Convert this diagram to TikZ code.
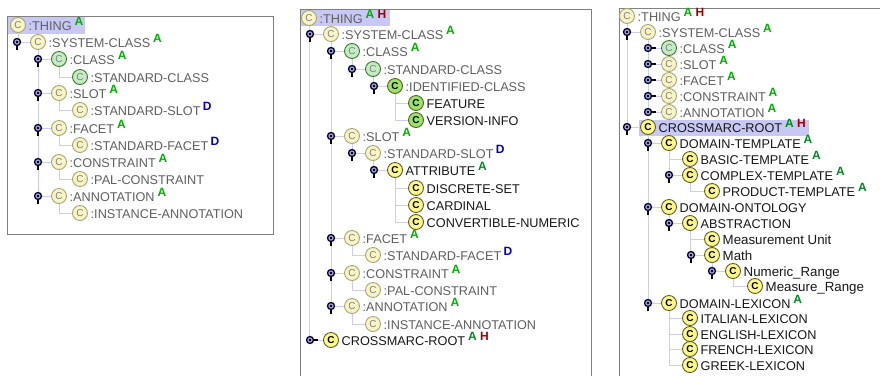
\documentclass[tikz,border=0pt]{standalone}
\usepackage{fontspec}
\setmainfont{Liberation Sans}
\pgfdeclarelayer{bg}
\pgfsetlayers{bg,main}
\definecolor{ysys}{HTML}{F8F4C4}
\definecolor{yusr}{HTML}{FCF88C}
\definecolor{gsys}{HTML}{C4ECC4}
\definecolor{gusr}{HTML}{98E468}
\definecolor{lsys}{HTML}{A8A478}
\definecolor{lusr}{HTML}{605C20}
\definecolor{tsys}{HTML}{606060}
\definecolor{tusr}{HTML}{181818}
\definecolor{badgeg}{HTML}{00B000}
\definecolor{badgedg}{HTML}{008A20}
\definecolor{badged}{HTML}{0000C0}
\definecolor{badgeh}{HTML}{A00000}
\definecolor{treeline}{HTML}{CCCCF4}
\definecolor{hilite}{HTML}{C8C8F4}
\definecolor{framec}{HTML}{808080}
\definecolor{hfill}{HTML}{A8A8C8}
\tikzset{
  x=1pt,y=-1pt,
  icon/.style={circle,minimum size=15pt,inner sep=0pt,line width=0.9pt},
  ys/.style={icon,fill=ysys,draw=lsys,text=gray,font=\fontsize{10}{10}\selectfont},
  yu/.style={icon,fill=yusr,draw=lusr,text=black,font=\fontsize{10}{10}\selectfont\bfseries},
  gs/.style={icon,fill=gsys,draw=lsys!60!green!60!black,text=gray,font=\fontsize{10}{10}\selectfont},
  gu/.style={icon,fill=gusr,draw=lusr,text=black,font=\fontsize{10}{10}\selectfont\bfseries},
  lab/.style={anchor=base west,inner sep=0pt,font=\fontsize{12.7}{13}\selectfont},
  sysl/.style={lab,text=tsys},
  usrl/.style={lab,text=tusr},
  usrw/.style={usrl,font=\fontsize{13.3}{14}\selectfont},
  badge/.style={anchor=base west,inner sep=0pt,font=\fontsize{12}{12}\selectfont\bfseries},
  tree/.style={draw=treeline,line width=0.9pt},
  hnd/.style={circle,minimum size=7pt,inner sep=0pt,fill=hfill,draw=black!75!blue,line width=1.3pt},
  hdot/.style={circle,minimum size=2.6pt,inner sep=0pt,fill=black},
  stem/.style={draw=black,line width=1.6pt},
  frm/.style={draw=framec,line width=1pt},
}
% \cl{name}{x}{y}{icon style}{label style}{text}
\newcommand{\cl}[6]{%
  \node[#4] (#1) at (#2,#3) {C};
  \node[#5] (#1-t) at (#2+10.5,#3+5) {#6};}
\newcommand{\bdA}[1]{\node[badge,text=badgeg] (#1-a) at ([xshift=2.5pt,yshift=4.5pt]#1-t.base east) {A};}
\newcommand{\bdB}[1]{\node[badge,text=badgedg] (#1-a) at ([xshift=2.5pt,yshift=4.5pt]#1-t.base east) {A};}
\newcommand{\bdD}[1]{\node[badge,text=badged] (#1-d) at ([xshift=2pt,yshift=4.5pt]#1-t.base east) {D};}
\newcommand{\bdH}[1]{\node[badge,text=badgeh] (#1-h) at ([xshift=3pt]#1-a.base east) {H};}
% expanded and collapsed handles, placed 21 to the left of the icon
\newcommand{\hx}[1]{%
  \node[hnd] (#1-x) at ([xshift=-21pt]#1.center) {};
  \node[hdot] (#1-xd) at (#1-x) {};
  \draw[stem] (#1-x.south) -- ++(0,4);}
\newcommand{\hc}[1]{%
  \node[hnd] (#1-x) at ([xshift=-21pt]#1.center) {};
  \node[hdot] (#1-xd) at (#1-x) {};
  \draw[stem] (#1-x.east) -- ++(4,0);}
\newcommand{\tl}[2]{\begin{pgfonlayer}{bg}\draw[tree] (#1.center) |- (#2.center);\end{pgfonlayer}}
\begin{document}
\begin{tikzpicture}
\useasboundingbox (0,0) rectangle (880,376);
\begin{pgfonlayer}{bg}
  \fill[white] (0,0) rectangle (880,376);
  \draw[frm] (7.5,16) rectangle (273,234.5);
  \fill[hilite] (8,17) rectangle (85,34);
  \draw[frm] (300.5,376) -- (300.5,9) -- (591,9) -- (591,376);
  \fill[hilite] (301,10) rectangle (390,26);
  \draw[frm] (619,376) -- (619,8) -- (880,8);
  \fill[hilite] (639,120) rectangle (809,136);
\end{pgfonlayer}
% ---------- panel 1
\cl{a0}{18}{25}{ys}{sysl}{:THING}\bdA{a0}
\cl{a1}{38}{42}{ys}{sysl}{:SYSTEM-CLASS}\bdA{a1}\hx{a1}
\cl{a2}{59}{59}{gs}{sysl}{:CLASS}\bdA{a2}\hx{a2}
\cl{a3}{80}{77}{gs}{sysl}{:STANDARD-CLASS}
\cl{a4}{59}{93}{ys}{sysl}{:SLOT}\bdA{a4}\hx{a4}
\cl{a5}{80}{110}{ys}{sysl}{:STANDARD-SLOT}\bdD{a5}
\cl{a6}{59}{128}{ys}{sysl}{:FACET}\bdA{a6}\hx{a6}
\cl{a7}{80}{145}{ys}{sysl}{:STANDARD-FACET}\bdD{a7}
\cl{a8}{59}{162}{ys}{sysl}{:CONSTRAINT}\bdA{a8}\hx{a8}
\cl{a9}{80}{179}{ys}{sysl}{:PAL-CONSTRAINT}
\cl{a10}{59}{196}{ys}{sysl}{:ANNOTATION}\bdA{a10}\hx{a10}
\cl{a11}{80}{213}{ys}{sysl}{:INSTANCE-ANNOTATION}
\tl{a0}{a1}\tl{a1}{a2}\tl{a1}{a4}\tl{a1}{a6}\tl{a1}{a8}\tl{a1}{a10}
\tl{a2}{a3}\tl{a4}{a5}\tl{a6}{a7}\tl{a8}{a9}\tl{a10}{a11}
% ---------- panel 2
\cl{b0}{309}{18}{ys}{sysl}{:THING}\bdA{b0}\bdH{b0}
\cl{b1}{331}{34}{ys}{sysl}{:SYSTEM-CLASS}\bdA{b1}\hx{b1}
\cl{b2}{352}{51}{gs}{sysl}{:CLASS}\bdA{b2}\hx{b2}
\cl{b3}{373}{69}{gs}{sysl}{:STANDARD-CLASS}\hx{b3}
\cl{b4}{395}{86}{gu}{sysl}{:IDENTIFIED-CLASS}\hx{b4}
\cl{b5}{416}{103}{gu}{usrl}{FEATURE}
\cl{b6}{416}{120}{gu}{usrl}{VERSION-INFO}
\cl{b7}{352}{136}{ys}{sysl}{:SLOT}\bdA{b7}\hx{b7}
\cl{b8}{373}{153}{ys}{sysl}{:STANDARD-SLOT}\bdD{b8}\hx{b8}
\cl{b9}{395}{170}{yu}{usrl}{ATTRIBUTE}\bdB{b9}\hx{b9}
\cl{b10}{416}{188}{yu}{usrl}{DISCRETE-SET}
\cl{b11}{416}{205}{yu}{usrl}{CARDINAL}
\cl{b12}{416}{222}{yu}{usrl}{CONVERTIBLE-NUMERIC}
\cl{b13}{352}{238}{ys}{sysl}{:FACET}\bdA{b13}\hx{b13}
\cl{b14}{373}{255}{ys}{sysl}{:STANDARD-FACET}\bdD{b14}
\cl{b15}{352}{273}{ys}{sysl}{:CONSTRAINT}\bdA{b15}\hx{b15}
\cl{b16}{373}{290}{ys}{sysl}{:PAL-CONSTRAINT}
\cl{b17}{352}{306}{ys}{sysl}{:ANNOTATION}\bdA{b17}\hx{b17}
\cl{b18}{373}{324}{ys}{sysl}{:INSTANCE-ANNOTATION}
\cl{b19}{331}{340}{yu}{usrl}{CROSSMARC-ROOT}\bdB{b19}\bdH{b19}\hc{b19}
\tl{b0}{b1}\tl{b0}{b19}
\tl{b1}{b2}\tl{b1}{b7}\tl{b1}{b13}\tl{b1}{b15}\tl{b1}{b17}
\tl{b2}{b3}\tl{b3}{b4}\tl{b4}{b5}\tl{b4}{b6}
\tl{b7}{b8}\tl{b8}{b9}\tl{b9}{b10}\tl{b9}{b11}\tl{b9}{b12}
\tl{b13}{b14}\tl{b15}{b16}\tl{b17}{b18}
% ---------- panel 3
\cl{c0}{627}{16}{ys}{sysl}{:THING}\bdA{c0}\bdH{c0}
\cl{c1}{648}{32}{ys}{sysl}{:SYSTEM-CLASS}\bdA{c1}\hx{c1}
\cl{c2}{669}{48}{gs}{sysl}{:CLASS}\bdA{c2}\hc{c2}
\cl{c3}{669}{64}{ys}{sysl}{:SLOT}\bdA{c3}\hc{c3}
\cl{c4}{669}{80}{ys}{sysl}{:FACET}\bdA{c4}\hc{c4}
\cl{c5}{669}{96}{ys}{sysl}{:CONSTRAINT}\bdA{c5}\hc{c5}
\cl{c6}{669}{112}{ys}{sysl}{:ANNOTATION}\bdA{c6}\hc{c6}
\cl{c7}{648}{127}{yu}{usrl}{CROSSMARC-ROOT}\bdB{c7}\bdH{c7}\hx{c7}
\cl{c8}{669}{143}{yu}{usrl}{DOMAIN-TEMPLATE}\bdB{c8}\hx{c8}
\cl{c9}{690}{159}{yu}{usrl}{BASIC-TEMPLATE}\bdB{c9}
\cl{c10}{690}{175}{yu}{usrl}{COMPLEX-TEMPLATE}\bdB{c10}\hx{c10}
\cl{c11}{712}{191}{yu}{usrl}{PRODUCT-TEMPLATE}\bdB{c11}
\cl{c12}{669}{207}{yu}{usrl}{DOMAIN-ONTOLOGY}\hx{c12}
\cl{c13}{690}{223}{yu}{usrl}{ABSTRACTION}\hx{c13}
\cl{c14}{712}{239}{yu}{usrw}{Measurement Unit}
\cl{c15}{712}{255}{yu}{usrw}{Math}\hx{c15}
\cl{c16}{733}{271}{yu}{usrw}{Numeric\_Range}\hx{c16}
\cl{c17}{755}{286}{yu}{usrw}{Measure\_Range}
\cl{c18}{669}{303}{yu}{usrl}{DOMAIN-LEXICON}\bdB{c18}\hx{c18}
\cl{c19}{690}{318}{yu}{usrl}{ITALIAN-LEXICON}
\cl{c20}{690}{334}{yu}{usrl}{ENGLISH-LEXICON}
\cl{c21}{690}{349}{yu}{usrl}{FRENCH-LEXICON}
\cl{c22}{690}{365}{yu}{usrl}{GREEK-LEXICON}
\tl{c0}{c1}\tl{c0}{c7}
\tl{c1}{c2}\tl{c1}{c3}\tl{c1}{c4}\tl{c1}{c5}\tl{c1}{c6}
\tl{c7}{c8}\tl{c7}{c12}\tl{c7}{c18}
\tl{c8}{c9}\tl{c8}{c10}\tl{c10}{c11}
\tl{c12}{c13}\tl{c13}{c14}\tl{c13}{c15}\tl{c15}{c16}\tl{c16}{c17}
\tl{c18}{c19}\tl{c18}{c20}\tl{c18}{c21}\tl{c18}{c22}
\end{tikzpicture}
\end{document}
